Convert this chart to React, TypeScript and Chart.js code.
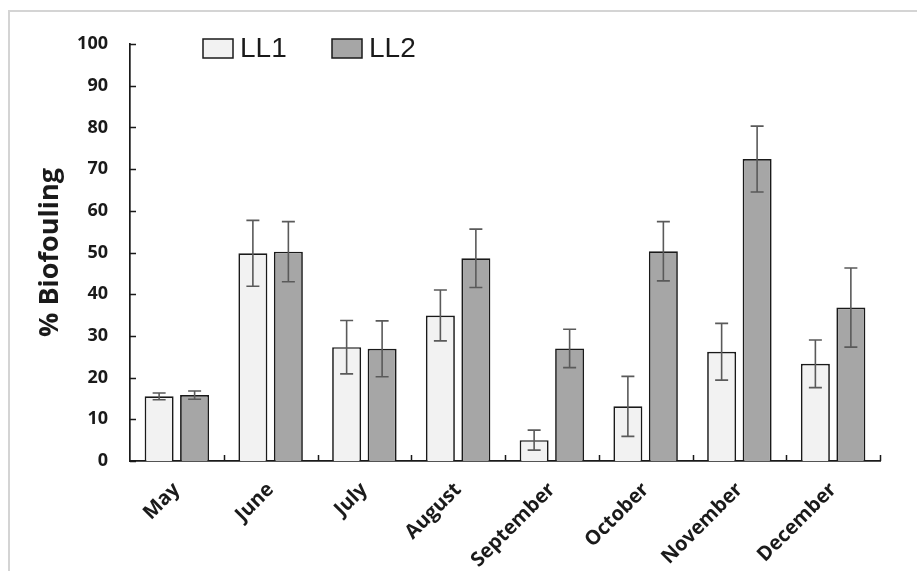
import React, { useEffect, useRef } from "react";
import { Chart, registerables } from "chart.js";

Chart.register(...registerables);

const months = ["May", "June", "July", "August", "September", "October", "November", "December"];
const ll1Values = [15.5, 49.8, 27.3, 34.9, 5.0, 13.1, 26.2, 23.3];
const ll1Errors = [0.8, 7.9, 6.4, 6.1, 2.4, 7.2, 6.8, 5.7];
const ll2Values = [15.8, 50.2, 26.9, 48.6, 27.0, 50.3, 72.4, 36.8];
const ll2Errors = [1.0, 7.2, 6.7, 7.0, 4.6, 7.1, 7.9, 9.5];
const yTickValues = [0, 10, 20, 30, 40, 50, 60, 70, 80, 90, 100];

const LL1_FILL = "#f2f2f2";
const LL2_FILL = "#a6a6a6";
const EDGE = "#1a1a1a";
const ERR = "#5a5a5a";

const errorBarPlugin = {
  id: "errorBars",
  afterDatasetsDraw(chart: any) {
    const ctx = chart.ctx;
    const y = chart.scales.y;
    chart.data.datasets.forEach((ds: any, di: number) => {
      const meta = chart.getDatasetMeta(di);
      const errs: number[] = ds.errors || [];
      meta.data.forEach((bar: any, i: number) => {
        const v = ds.data[i];
        const e = errs[i] || 0;
        const top = y.getPixelForValue(v + e);
        const bot = y.getPixelForValue(v - e);
        const cap = 6.5;
        ctx.save();
        ctx.strokeStyle = ERR;
        ctx.lineWidth = 1.6;
        ctx.beginPath();
        ctx.moveTo(bar.x, top);
        ctx.lineTo(bar.x, bot);
        ctx.moveTo(bar.x - cap, top);
        ctx.lineTo(bar.x + cap, top);
        ctx.moveTo(bar.x - cap, bot);
        ctx.lineTo(bar.x + cap, bot);
        ctx.stroke();
        ctx.restore();
      });
    });
  },
};

const innerTicksPlugin = {
  id: "innerTicks",
  afterDraw(chart: any) {
    const ctx = chart.ctx;
    const { left, right, bottom } = chart.chartArea;
    const y = chart.scales.y;
    const n = months.length;
    ctx.save();
    ctx.strokeStyle = EDGE;
    ctx.lineWidth = 1.5;
    ctx.beginPath();
    yTickValues.forEach((v) => {
      const py = Math.round(y.getPixelForValue(v)) + 0.5;
      ctx.moveTo(left, py);
      ctx.lineTo(left + 6, py);
    });
    for (let i = 1; i <= n; i++) {
      const px = Math.round(left + ((right - left) * i) / n) + 0.5;
      ctx.moveTo(px, bottom);
      ctx.lineTo(px, bottom - 6);
    }
    ctx.stroke();
    ctx.restore();
  },
};

const legendPlugin = {
  id: "customLegend",
  afterDraw(chart: any) {
    const ctx = chart.ctx;
    const { left, top } = chart.chartArea;
    const items = chart.data.datasets.map((ds: any) => ({ label: ds.label, fill: ds.backgroundColor }));
    const offsets = [73, 202];
    ctx.save();
    ctx.font = "28px 'Liberation Sans', Arial, sans-serif";
    ctx.textBaseline = "middle";
    ctx.textAlign = "left";
    items.forEach((it: any, i: number) => {
      const bx = left + offsets[i];
      const by = top - 5;
      ctx.fillStyle = it.fill;
      ctx.fillRect(bx, by, 30, 19);
      ctx.strokeStyle = EDGE;
      ctx.lineWidth = 1.5;
      ctx.strokeRect(bx, by, 30, 19);
      ctx.fillStyle = "#1a1a1a";
      ctx.fillText(it.label, bx + 37, by + 10);
    });
    ctx.restore();
  },
};

export default function App() {
  const ref = useRef<HTMLCanvasElement | null>(null);

  useEffect(() => {
    if (!ref.current) return;
    const chart = new Chart(ref.current, {
      type: "bar",
      data: {
        labels: months,
        datasets: [
          {
            label: "LL1",
            data: ll1Values,
            errors: ll1Errors,
            backgroundColor: LL1_FILL,
            borderColor: EDGE,
            borderWidth: 1.7,
            categoryPercentage: 0.757,
            barPercentage: 0.817,
          } as any,
          {
            label: "LL2",
            data: ll2Values,
            errors: ll2Errors,
            backgroundColor: LL2_FILL,
            borderColor: EDGE,
            borderWidth: 1.7,
            categoryPercentage: 0.757,
            barPercentage: 0.817,
          } as any,
        ],
      },
      options: {
        responsive: false,
        animation: false,
        devicePixelRatio: 1,
        layout: { padding: { left: 0, right: 37, top: 44, bottom: 0 } },
        plugins: {
          legend: { display: false },
          tooltip: { enabled: false },
        },
        scales: {
          x: {
            grid: { display: false, drawTicks: false },
            border: { display: true, color: EDGE, width: 1.7 },
            ticks: {
              autoSkip: false,
              minRotation: 45,
              maxRotation: 45,
              padding: 17,
              color: "#1a1a1a",
              font: { family: "'Open Sans', sans-serif", size: 20, weight: "bold" },
            },
            afterFit(scale: any) {
              scale.height = 110;
            },
          },
          y: {
            min: 0,
            max: 100,
            grid: { display: false, drawTicks: false },
            border: { display: true, color: EDGE, width: 1.7 },
            ticks: {
              stepSize: 10,
              padding: 22,
              color: "#1a1a1a",
              font: { family: "'Open Sans', sans-serif", size: 18, weight: "bold" },
            },
            title: {
              display: true,
              text: "% Biofouling",
              color: "#1a1a1a",
              padding: { top: 34, bottom: 0 },
              font: { family: "'Open Sans', sans-serif", size: 27, weight: "bold" },
            },
            afterFit(scale: any) {
              scale.width = 130;
            },
          },
        },
      },
      plugins: [errorBarPlugin, innerTicksPlugin, legendPlugin],
    } as any);
    return () => chart.destroy();
  }, []);

  return (
    <div style={{ position: "fixed", left: 0, top: 0, width: 917, height: 571, background: "#fff" }}>
      <div
        style={{
          position: "absolute",
          left: 8,
          top: 10,
          right: -10,
          bottom: -10,
          borderTop: "2px solid #d4d4d4",
          borderLeft: "2px solid #d4d4d4",
        }}
      />
      <canvas ref={ref} width={917} height={571} style={{ position: "absolute", left: 0, top: 0, display: "block" }} />
    </div>
  );
}
